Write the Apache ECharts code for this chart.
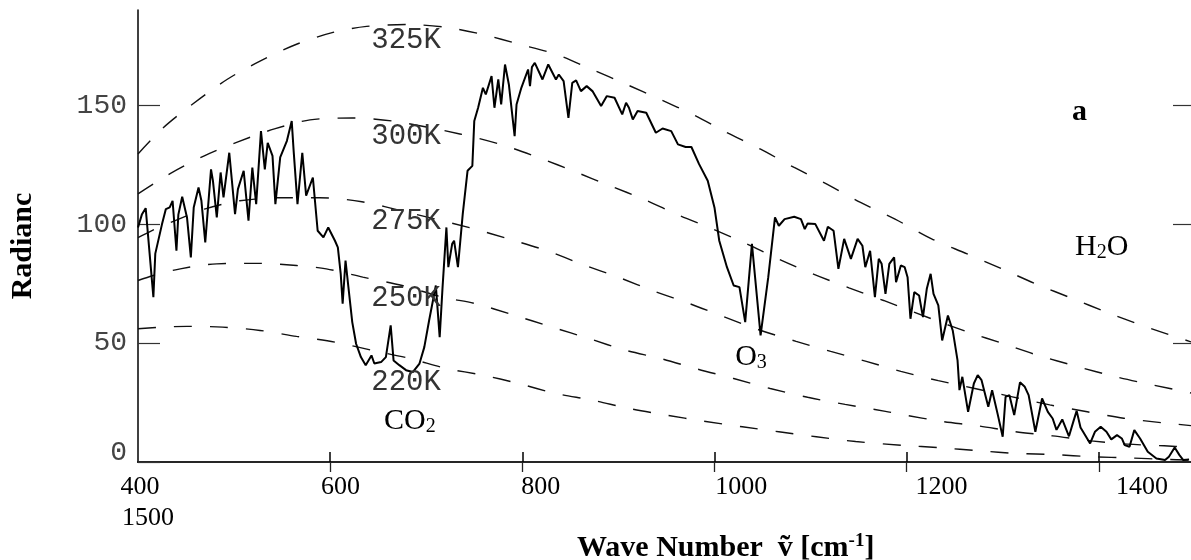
<!DOCTYPE html>
<html>
<head>
<meta charset="utf-8">
<title>Radiance spectrum</title>
<script src="https://cdn.jsdelivr.net/npm/echarts@6/dist/echarts.min.js"></script>
<style>
html, body { margin: 0; padding: 0; background: #fff; }
#chart { width: 1191px; height: 560px; }
</style>
</head>
<body>
<div id="chart"></div>
<script>
// measured spectrum, [wave number cm-1, radiance]
var spectrum = [
  [400,98.6],[404,104],[408,106.7],[416,69.3],[418,87.6],[425,100],[429,106.3],[433,107],[436,109.8],[440,88.8],
  [442,104],[446,111.5],[451,102.8],[455,86],[458,107],[463,115.4],[466,109.8],[470,92.3],[476,123],[478,118.2],
  [482,102.8],[486,121.7],[489,111.2],[495,130],[501,104.2],[504,114.7],[510,122.4],[515,101.4],[519,123.8],[523,108.4],
  [528,139.1],[532,123],[535,134.2],[540,128.7],[543,108.4],[548,128],[555,135],[560,143.3],[562,130.8],[566,108.4],
  [571,130],[575,112],[582,119.6],[587,97.2],[593,94.4],[598,98.6],[605,93],[608,90.2],[611,79.1],[613,66.5],
  [616,84.7],[619,73.5],[623,58.8],[627,49.7],[632,44.1],[637,40.7],[643,44.8],[646,41.4],[653,42],[658,44.1],
  [663,57.4],[666,42.7],[672,40.7],[679,38.6],[686,37.8],[693,41.4],[698,48.3],[703,59.5],[710,74.2],[714,52.5],
  [717,73.5],[721,98.6],[723,81.9],[727,91.7],[729,93],[733,81.9],[738,104.2],[743,122.4],[748,124.5],[750,143.3],
  [754,148.9],[759,157.3],[762,154.5],[768,162.2],[771,148.9],[775,160.8],[778,150.3],[782,167.1],[786,158.7],[792,137],
  [794,150.3],[799,157.3],[806,165],[808,158],[810,166],[813,167.8],[821,160.8],[827,167.1],[835,160.8],[838,162.9],
  [843,160.1],[848,144.7],[852,159.4],[856,160.4],[861,155.9],[867,158],[873,155.9],[882,149.6],[888,153.8],[896,153.1],
  [904,146.1],[908,151],[911,148.9],[915,144],[920,147.5],[929,146.8],[939,138.4],[946,140.2],[955,139.1],[962,133.5],
  [970,132.4],[976,132.4],[984,125.2],[993,118.2],[1000,107],[1005,93],[1013,81.9],[1020,74.2],[1026,73.5],[1032,58.8],
  [1039,91.7],[1048,53.2],[1056,77.7],[1063,102.8],[1067,99.3],[1073,102.1],[1083,103.1],[1090,102.1],[1094,97.9],[1097,100.3],
  [1105,100],[1114,93],[1118,98.9],[1124,97.2],[1129,81.2],[1135,93.8],[1142,85.4],[1149,93.8],[1154,90.9],[1157,81.9],
  [1162,88.8],[1167,69.3],[1171,85.4],[1174,83.3],[1178,70.7],[1182,83.3],[1187,86],[1189,75.6],[1194,82.6],[1198,81.9],
  [1201,77.7],[1204,60.2],[1208,71.4],[1213,70],[1217,60.9],[1221,72.8],[1225,79.1],[1228,70.7],[1233,65.8],[1237,51.1],
  [1243,61.6],[1248,55.3],[1253,42.7],[1255,30.2],[1258,35.8],[1264,21.1],[1270,33],[1274,36.5],[1278,34.4],[1285,23.2],
  [1289,30.2],[1295,19.7],[1300,10.6],[1303,27.4],[1307,28.1],[1312,19.7],[1318,33.5],[1323,31.6],[1327,28.1],[1334,12.7],
  [1341,26.7],[1347,21.1],[1352,18.3],[1356,13.5],[1362,17.9],[1369,10.8],[1374,17.6],[1377,21.5],[1381,14.5],[1384,12.5],
  [1391,7.8],[1396,12.7],[1402,14.8],[1408,12.7],[1413,9.5],[1419,11.3],[1424,9.9],[1427,7.1],[1432,6.4],[1437,13.4],
  [1443,9.9],[1451,4.3],[1460,1.5],[1469,0.8],[1473,2.2],[1479,6.1],[1484,2.9],[1488,0.8],[1494,1.1]
];

// blackbody reference curves
var curve325 = [[400,129.5],[426,140.4],[457,150.5],[493,160.9],[527,168.5],[565,175.6],[603,180.6],[638,183.1],[681,183.9],[721,182.7],[759,179.7],[797,175.6],[835,171.4],[872,165.1],[908,158.8],[943,152.5],[979,145.8],[1012,138.7],[1048,131.5],[1083,123.8],[1117,116.8],[1152,109.1],[1188,102.1],[1226,93.8],[1263,87.5],[1299,81.2],[1335,74.8],[1372,68.8],[1408,63],[1445,57.4],[1481,52.5],[1496,50.5]];
var curve300 = [[400,112.7],[433,121.1],[469,128.7],[504,134.6],[542,140],[579,143.8],[623,144.6],[665,143.3],[735,137.9],[779,133.3],[818,127.8],[855,122],[890,116.3],[928,110.2],[962,103.9],[996,98.3],[1031,92.2],[1068,85.1],[1103,79],[1140,73.2],[1176,67.9],[1226,60.2],[1264,54.6],[1301,49.7],[1337,44.8],[1377,40.2],[1418,35.8],[1457,32.3],[1491,29.5],[1496,29]];
var curve275 = [[400,94.3],[414,97.2],[438,101.4],[470,106.4],[506,109.8],[548,111.1],[589,111.1],[633,109.4],[680,105],[745,98.5],[788,93.5],[825,88.9],[863,83],[901,77.5],[938,71.7],[974,66.6],[1010,61],[1046,55.6],[1085,50.7],[1121,46.5],[1158,42.3],[1194,38.1],[1233,34.2],[1271,30.9],[1310,27.4],[1349,24],[1388,21.1],[1426,18.4],[1466,16.5],[1496,15.3]];
var curve250 = [[400,76.3],[416,78.4],[444,81.2],[482,83.3],[525,83.5],[565,82.6],[596,81.2],[634,77.7],[675,74.2],[717,69.3],[752,66.5],[789,62],[831,56.7],[870,51.8],[908,46.9],[944,43.5],[983,39],[1020,35.1],[1058,30.9],[1097,27.2],[1136,24.2],[1178,21.3],[1196,19.9],[1236,17.1],[1274,15.2],[1312,12.8],[1352,11],[1392,8.9],[1430,7.5],[1468,6.8],[1496,6.2]];
var curve220 = [[400,56],[426,56.7],[451,57],[488,56.7],[527,55.3],[565,52.8],[605,50.4],[644,46.9],[683,43.5],[721,39.3],[759,36.5],[795,33.1],[835,28.8],[873,26],[911,22.5],[950,19.7],[988,17.2],[1029,14.8],[1067,12.7],[1106,10.6],[1147,8.6],[1196,7],[1235,6],[1276,4.7],[1315,3.6],[1354,3.1],[1393,2.2],[1433,1.7],[1469,1.1],[1496,0.8]];

var waveTicks = [600, 800, 1000, 1200, 1400];
var waveTickLabels = [400, 600, 800, 1000, 1200, 1400];
var waveLabelText = { 400: '400\n{b|1500}' };
var radTicks = [0, 50, 100, 150];

var tempLabels = ['325K', '300K', '275K', '250K', '220K'];
var tempLabelAt = [[679, 177.4], [679, 137], [679, 101.3], [679, 68.9], [679, 33.6]];
var gasLabels = ['CO{s|2}', 'O{s|3}', 'H{s|2}O'];
var gasLabelAt = [[683, 17.2], [1038, 44.1], [1403, 90.4]];
var panelLabel = 'a';
var panelLabelAt = [1380, 147.1];

var serif = 'Liberation Serif, DejaVu Serif, serif';
var mono = 'Liberation Mono, DejaVu Sans Mono, monospace';

function curve(name, data) {
  return {
    name: name, type: 'line', data: data, smooth: 0.3, symbol: 'none', silent: true, z: 2,
    lineStyle: { color: '#111', width: 1.4, type: [18, 18] }
  };
}

// scatter fades its items (and their labels) by default, so force full opacity
function textMarks(names, at, style) {
  return {
    type: 'scatter', symbolSize: 0, silent: true, z: 5,
    itemStyle: { opacity: 1 },
    data: at.map(function (p, i) { return { name: names[i], value: p }; }),
    label: Object.assign({ show: true, position: 'inside', formatter: '{b}', textBorderWidth: 0, opacity: 1 }, style)
  };
}

var chart = echarts.init(document.getElementById('chart'));
chart.setOption({
  animation: false,
  backgroundColor: '#fff',
  title: {
    text: 'Wave Number  {t|\u1e7d} [cm{sup|-1}]',
    left: 572, top: 527,
    textStyle: {
      fontFamily: serif, fontWeight: 'bold', fontSize: 30, color: '#000',
      rich: {
        t: { fontFamily: serif, fontWeight: 'bold', fontSize: 30, color: '#000' },
        sup: { fontFamily: serif, fontWeight: 'bold', fontSize: 19, color: '#000', padding: [0, 0, 14, 0] }
      }
    }
  },
  grid: { left: 138, right: 0, top: 10, bottom: 98 },
  xAxis: [
    {
      type: 'value', min: 400, max: 1496, position: 'bottom',
      axisLine: { lineStyle: { color: '#000', width: 2 } },
      axisTick: { inside: true, length: 10, customValues: waveTicks, lineStyle: { color: '#000', width: 1.5 } },
      axisLabel: { show: false }, splitLine: { show: false }
    },
    {
      type: 'value', min: 400, max: 1496, position: 'top',
      axisLine: { lineStyle: { color: '#333', width: 1.5 } },
      axisTick: { inside: true, length: 10, customValues: waveTicks, lineStyle: { color: '#222', width: 1.3 } },
      axisLabel: { show: false }, splitLine: { show: false }
    },
    {
      // the printed labels sit a little off the ticks in the original figure
      type: 'value', min: 398, max: 1449, position: 'bottom', offset: 0,
      axisLine: { show: false }, axisTick: { show: false }, splitLine: { show: false },
      axisLabel: {
        customValues: waveTickLabels, margin: 10,
        fontFamily: serif, fontSize: 26, lineHeight: 31, color: '#000',
        formatter: function (v) { return waveLabelText[v] || String(v); },
        rich: { b: { fontFamily: serif, fontSize: 26, lineHeight: 31, color: '#000', padding: [0, 0, 0, 16] } }
      }
    }
  ],
  yAxis: [
    {
      type: 'value', min: 0, max: 190, position: 'left',
      name: 'Radianc', nameLocation: 'middle', nameRotate: 90, nameGap: 100,
      nameTextStyle: { fontFamily: serif, fontWeight: 'bold', fontSize: 30, color: '#000', padding: [0, 20, 0, 0] },
      axisLine: { show: true, lineStyle: { color: '#000', width: 1.5 } },
      axisTick: { show: true, inside: true, length: 22, customValues: radTicks, lineStyle: { color: '#333', width: 1.2 } },
      axisLabel: {
        customValues: radTicks, margin: 11,
        fontFamily: mono, fontSize: 28, color: '#444',
        formatter: function (v) { return v === 0 ? '{z|0}' : String(v); },
        rich: { z: { fontFamily: mono, fontSize: 28, color: '#444', padding: [0, 0, 18, 0] } }
      },
      splitLine: { show: false }
    },
    {
      type: 'value', min: 0, max: 190, position: 'right',
      axisLine: { show: false },
      axisTick: { show: true, inside: true, length: 18, customValues: [50, 100, 150], lineStyle: { color: '#333', width: 1.2 } },
      axisLabel: { show: false }, splitLine: { show: false }
    }
  ],
  series: [
    curve('325K', curve325),
    curve('300K', curve300),
    curve('275K', curve275),
    curve('250K', curve250),
    curve('220K', curve220),
    {
      name: 'spectrum', type: 'line', data: spectrum, symbol: 'none', silent: true, z: 3,
      lineStyle: { color: '#000', width: 2 }
    },
    textMarks(tempLabels, tempLabelAt, { fontFamily: mono, fontSize: 29, color: '#333' }),
    textMarks(gasLabels, gasLabelAt, {
      fontFamily: serif, fontSize: 30, color: '#000',
      rich: { s: { fontFamily: serif, fontSize: 20, color: '#000', textBorderWidth: 0, padding: [12, 0, 0, 0] } }
    }),
    textMarks([panelLabel], [panelLabelAt], { fontFamily: serif, fontWeight: 'bold', fontSize: 30, color: '#000' })
  ]
});
</script>
</body>
</html>
